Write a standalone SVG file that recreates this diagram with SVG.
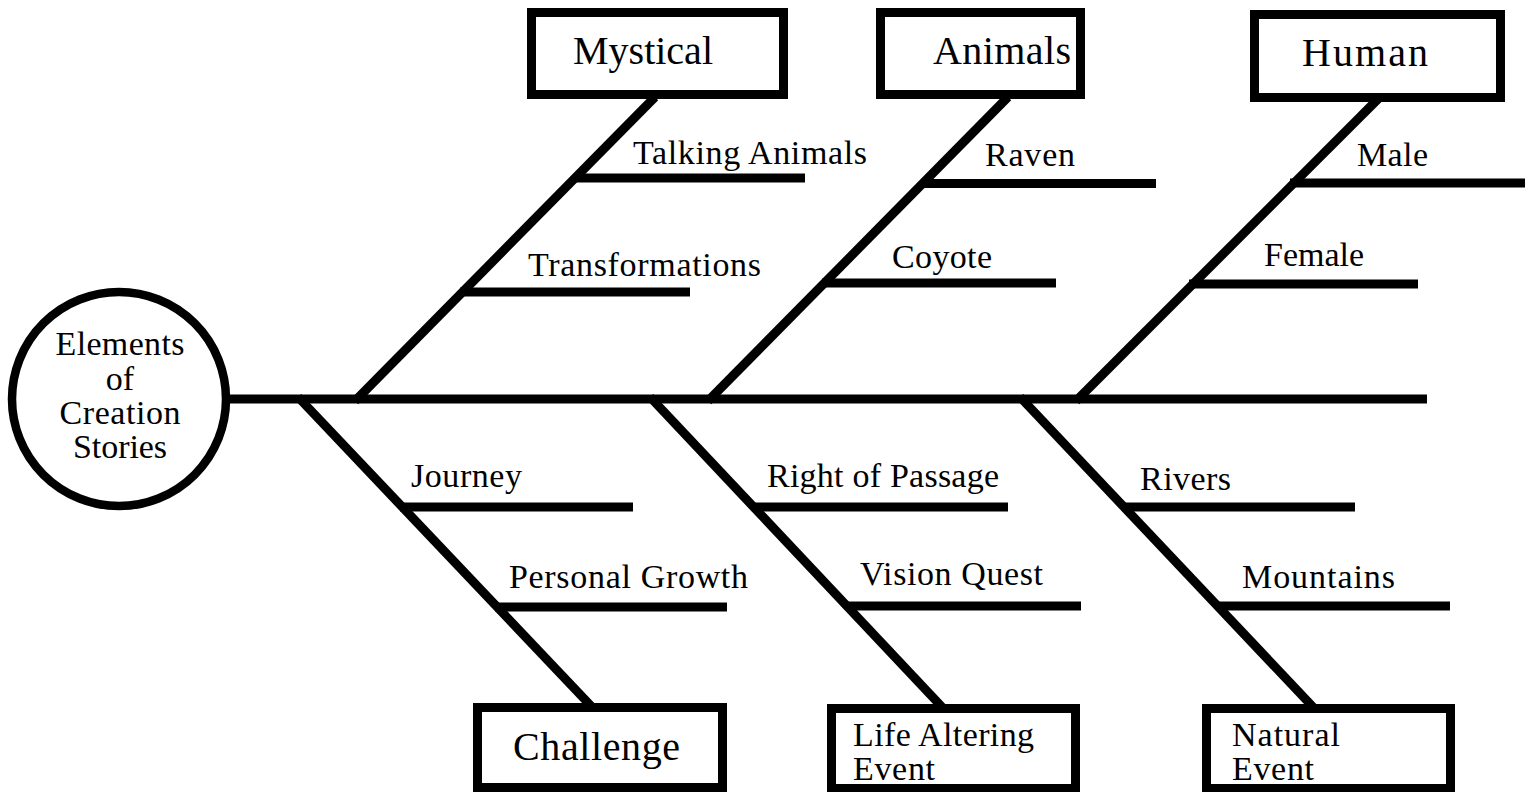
<svg xmlns="http://www.w3.org/2000/svg" width="1533" height="792" viewBox="0 0 1533 792">
<style>
.ln{stroke:#000;stroke-width:9;fill:none;stroke-linecap:butt}
.bx{stroke:#000;stroke-width:9;fill:#fff}
.t{font-family:"Liberation Serif","Times New Roman",serif;fill:#000}
.lb{font-size:34px}
.bt{font-size:40px}
.bs{font-size:34px}
.ct{font-size:34px;text-anchor:middle}
</style>
<rect width="1533" height="792" fill="#fff"/>
<g id="connectors">
<line class="ln" x1="228" y1="399" x2="1427" y2="399"/>
<line class="ln" x1="355" y1="401" x2="655" y2="97"/>
<line class="ln" x1="708" y1="401" x2="1008" y2="97"/>
<line class="ln" x1="1076" y1="401" x2="1378" y2="99"/>
<line class="ln" x1="298" y1="397" x2="592" y2="707"/>
<line class="ln" x1="650" y1="397" x2="942" y2="707"/>
<line class="ln" x1="1020" y1="397" x2="1313" y2="707"/>
</g>
<g id="center">
<circle cx="119" cy="399" r="107" fill="#fff" stroke="#000" stroke-width="8.5"/>
<text class="t ct" x="120" y="355" textLength="129">Elements</text>
<text class="t ct" x="120" y="390">of</text>
<text class="t ct" x="120" y="424" textLength="121">Creation</text>
<text class="t ct" x="120" y="458" textLength="94">Stories</text>
</g>
<g id="mystical">
<rect class="bx" x="531.5" y="12.5" width="252" height="82"/>
<text class="t bt" x="573" y="64" textLength="140">Mystical</text>
</g>
<g id="animals">
<rect class="bx" x="880.5" y="12.5" width="200" height="82"/>
<text class="t bt" x="933" y="64" textLength="138">Animals</text>
</g>
<g id="human">
<rect class="bx" x="1254.5" y="14.5" width="246" height="83"/>
<text class="t bt" x="1302" y="66" textLength="126">Human</text>
</g>
<g id="challenge">
<rect class="bx" x="477.5" y="707.5" width="245" height="80"/>
<text class="t bt" x="513" y="760" textLength="167">Challenge</text>
</g>
<g id="life-altering-event">
<rect class="bx" x="831.5" y="708.5" width="244" height="80"/>
<text class="t bs" x="853" y="746" textLength="181">Life Altering</text>
<text class="t bs" x="853" y="780" textLength="82">Event</text>
</g>
<g id="natural-event">
<rect class="bx" x="1206.5" y="708.5" width="244" height="80"/>
<text class="t bs" x="1232" y="746" textLength="108">Natural</text>
<text class="t bs" x="1232" y="780" textLength="82">Event</text>
</g>
<g id="talking-animals">
<line class="ln" x1="574" y1="178" x2="805" y2="178"/>
<text class="t lb" x="633" y="164" textLength="234">Talking Animals</text>
</g>
<g id="transformations">
<line class="ln" x1="460" y1="292" x2="690" y2="292"/>
<text class="t lb" x="528" y="276" textLength="233">Transformations</text>
</g>
<g id="raven">
<line class="ln" x1="922" y1="183.5" x2="1156" y2="183.5"/>
<text class="t lb" x="985" y="166" textLength="90">Raven</text>
</g>
<g id="coyote">
<line class="ln" x1="822" y1="283" x2="1056" y2="283"/>
<text class="t lb" x="892" y="268" textLength="100">Coyote</text>
</g>
<g id="male">
<line class="ln" x1="1290" y1="183" x2="1525" y2="183"/>
<text class="t lb" x="1357" y="166" textLength="71">Male</text>
</g>
<g id="female">
<line class="ln" x1="1189" y1="284" x2="1418" y2="284"/>
<text class="t lb" x="1264" y="266" textLength="100">Female</text>
</g>
<g id="journey">
<line class="ln" x1="400" y1="507" x2="633" y2="507"/>
<text class="t lb" x="411" y="487" textLength="111">Journey</text>
</g>
<g id="personal-growth">
<line class="ln" x1="495" y1="607" x2="727" y2="607"/>
<text class="t lb" x="509" y="588" textLength="239">Personal Growth</text>
</g>
<g id="right-of-passage">
<line class="ln" x1="752" y1="507" x2="1008" y2="507"/>
<text class="t lb" x="767" y="487" textLength="232">Right of Passage</text>
</g>
<g id="vision-quest">
<line class="ln" x1="846" y1="606" x2="1081" y2="606"/>
<text class="t lb" x="860" y="585" textLength="183">Vision Quest</text>
</g>
<g id="rivers">
<line class="ln" x1="1122" y1="507" x2="1355" y2="507"/>
<text class="t lb" x="1140" y="490" textLength="91">Rivers</text>
</g>
<g id="mountains">
<line class="ln" x1="1216" y1="606" x2="1450" y2="606"/>
<text class="t lb" x="1242" y="588" textLength="153">Mountains</text>
</g>
</svg>
